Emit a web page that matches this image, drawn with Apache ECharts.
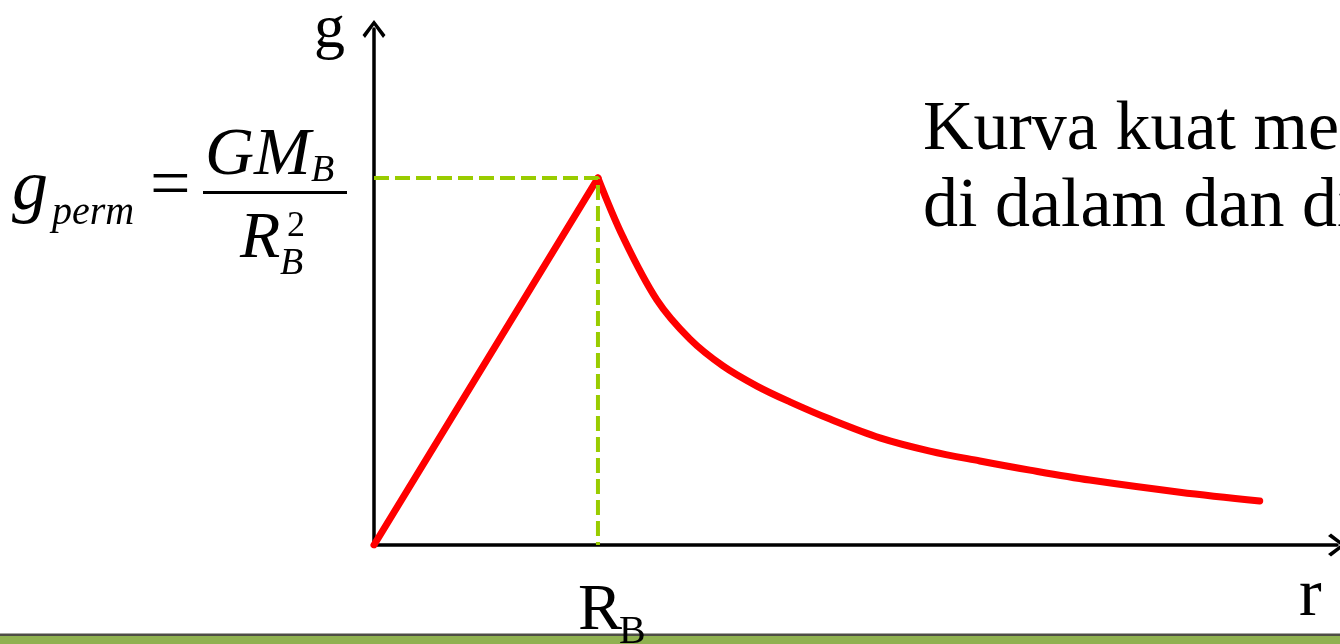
<!DOCTYPE html>
<html>
<head>
<meta charset="utf-8">
<script src="https://cdn.jsdelivr.net/npm/echarts@6/dist/echarts.min.js"></script>
<style>
html,body{margin:0;padding:0;background:#fff;}
#chart{width:1340px;height:644px;}
</style>
</head>
<body>
<div id="chart"></div>
<script>
// ---- data (r in units of R_B, g in units of g_perm) ----
// inside the body: straight rise
const insideR = [0, 1.000];
const insideG = [0, 1.000];
// outside the body: decay
const outsideR = [1.000, 1.112, 1.263, 1.411, 1.558, 1.710, 1.857, 2.036, 2.259, 2.482, 2.705, 2.929, 3.196, 3.598, 3.955];
const outsideG = [1.000, 0.839, 0.668, 0.561, 0.488, 0.433, 0.390, 0.343, 0.292, 0.256, 0.229, 0.204, 0.177, 0.144, 0.120];
// guide lines to the peak
const guideR = [0, 1, 1];
const guideG = [1, 1, 0];
const yAxisName = 'g';
const xAxisName = 'r';
const tickLabelMain = 'R';
const tickLabelSub = 'B';
const noteLine1 = 'Kurva kuat medan gravitasi';
const noteLine2 = 'di dalam dan di luar bumi';

const insideData = insideR.map((r, i) => [r, insideG[i]]);
const outsideData = outsideR.map((r, i) => [r, outsideG[i]]);
const guideData = guideR.map((r, i) => [r, guideG[i]]);

const SERIF = '"Liberation Serif", "Times New Roman", serif';
const chevron = 'path://M0,15 L11.5,0 L23,15 L20.5,18 L11.5,5.5 L2.5,18 Z';

const chart = echarts.init(document.getElementById('chart'), null, {renderer: 'canvas'});

function txt(text, x, y, size, italic, align) {
  return {
    type: 'text', z: 10, x: x, y: y,
    style: {
      text: text,
      font: (italic ? 'italic ' : '') + size + 'px ' + SERIF,
      fill: '#000',
      textAlign: align || 'left',
      textVerticalAlign: 'middle'
    }
  };
}

const redStyle = {color: '#ff0000', width: 7, join: 'round', cap: 'round'};

const option = {
  backgroundColor: '#ffffff',
  animation: false,
  grid: {left: 374, right: 3, top: 29, bottom: 99, containLabel: false},
  xAxis: {
    type: 'value', min: 0, max: 4.30,
    splitLine: {show: false}, axisTick: {show: false}, axisLabel: {show: false},
    axisLine: {show: true, symbol: ['none', chevron], symbolSize: [23, 18],
      lineStyle: {color: '#000', width: 3.5}}
  },
  yAxis: {
    type: 'value', min: 0, max: 1.406,
    splitLine: {show: false}, axisTick: {show: false}, axisLabel: {show: false},
    axisLine: {show: true, symbol: ['none', chevron], symbolSize: [23, 18],
      lineStyle: {color: '#000', width: 3.5}}
  },
  series: [
    {
      type: 'line', data: insideData, showSymbol: false, smooth: false, z: 3,
      lineStyle: redStyle
    },
    {
      type: 'line', data: outsideData, showSymbol: false, smooth: 0.35, z: 3,
      lineStyle: redStyle
    },
    {
      type: 'line', data: guideData, showSymbol: false, z: 4,
      lineStyle: {color: '#99cc00', width: 4, type: [15, 6]}
    }
  ],
  graphic: [
    // bottom decorative band
    {type: 'rect', z: 1, shape: {x: 0, y: 633.5, width: 1340, height: 2.5}, style: {fill: '#4d4d45'}},
    {type: 'rect', z: 1, shape: {x: 0, y: 636, width: 1340, height: 8}, style: {fill: '#8fb150'}},
    // axis names
    txt(yAxisName, 314, 31, 62, false),
    txt(xAxisName, 1299, 597, 68, false),
    // R_B tick label
    txt(tickLabelMain, 578, 612, 66, false),
    txt(tickLabelSub, 619, 632, 40, false),
    // formula g_perm = GM_B / R_B^2
    txt('g', 12, 190, 72, true),
    txt('perm', 52, 213, 40, true),
    txt('=', 150, 188, 72, false),
    {type: 'line', z: 10, shape: {x1: 203, y1: 192.5, x2: 347, y2: 192.5}, style: {stroke: '#000', lineWidth: 3}},
    txt('GM', 205, 156, 68, true),
    txt('B', 311, 171, 38, true),
    txt('R', 240, 240, 66, true),
    txt('2', 287, 227, 36, false),
    txt('B', 280, 264, 38, true),
    // note text
    txt(noteLine1, 923, 131, 70, false),
    txt(noteLine2, 923, 208, 70, false)
  ]
};
chart.setOption(option);
</script>
</body>
</html>
